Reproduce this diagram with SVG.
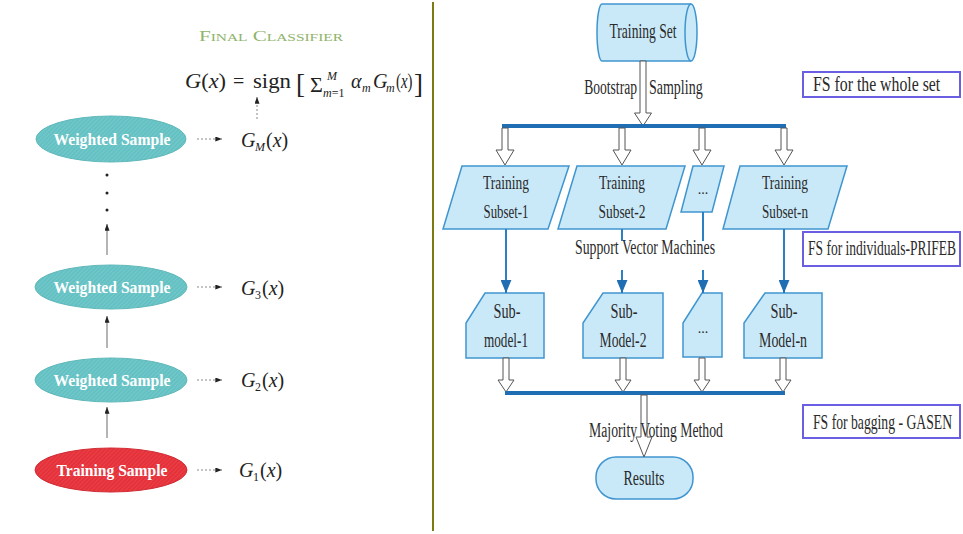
<svg xmlns="http://www.w3.org/2000/svg" width="963" height="534" viewBox="0 0 963 534">
  <style>
    .serif { font-family: "Liberation Serif", "Times New Roman", serif; }
    .it { font-style: italic; }
    .math { font-family: "Liberation Serif", "Times New Roman", serif; font-size: 20px; fill: #222; }
    .sub { font-size: 12px; }
    .ell-txt { font-family: "Liberation Serif", serif; font-weight: bold; font-size: 16px; fill: #ffffff; }
    .teal { fill: url(#tealHatch); stroke: #5fb8ba; stroke-width: 1; }
    .red { fill: url(#redHatch); stroke: #d02a33; stroke-width: 1; }
    .dash { stroke: #8a8a8a; stroke-width: 1; stroke-dasharray: 2 2; fill: none; }
    .up { stroke: #6a6a6a; stroke-width: 1; fill: none; }
    .shape { fill: #c9e9f9; stroke: #3f95cf; stroke-width: 1.5; }
    .lbl { font-family: "Liberation Serif", "Times New Roman", serif; fill: #2a2a2a; }
    .bar { stroke: #1f6db3; stroke-width: 4; fill: none; }
    .wire { stroke: #2a80c2; stroke-width: 2; fill: none; }
    .hollow { fill: #ffffff; stroke: #555555; stroke-width: 1; }
    .note { fill: #ffffff; stroke: #6a5fe2; stroke-width: 2; }
  </style>
  <defs>
    <pattern id="tealHatch" width="3" height="3" patternUnits="userSpaceOnUse" patternTransform="rotate(45)">
      <rect width="3" height="3" fill="#64c1c3"/>
      <line x1="0" y1="0" x2="0" y2="3" stroke="#86d0d1" stroke-width="1"/>
    </pattern>
    <pattern id="redHatch" width="3" height="3" patternUnits="userSpaceOnUse" patternTransform="rotate(45)">
      <rect width="3" height="3" fill="#e5313a"/>
      <line x1="0" y1="0" x2="0" y2="3" stroke="#ee5058" stroke-width="1"/>
    </pattern>
    <marker id="smallHead" viewBox="0 0 8 6" refX="8" refY="3" markerWidth="7" markerHeight="5" markerUnits="userSpaceOnUse" orient="auto">
      <path d="M0,0 L8,3 L0,6 Z" fill="#222"/>
    </marker>
    <marker id="blueHead" viewBox="0 0 12 10" refX="12" refY="5" markerWidth="13" markerHeight="11" markerUnits="userSpaceOnUse" orient="auto">
      <path d="M0,0 L12,5 L0,10 Z" fill="#1f6db3"/>
    </marker>
    <!-- hollow block arrows reused under the bars -->
    <path id="splitArrow" class="hollow" d="M-3,128 V150 H-9 L0,165 L9,150 H3 V128 Z"/>
    <path id="mergeArrow" class="hollow" d="M-3,358 V380 H-8 L0,392 L8,380 H3 V358 Z"/>
  </defs>

  <rect width="963" height="534" fill="#ffffff"/>

  <!-- ============ Boosting panel ============ -->
  <g id="final-classifier">
    <text class="serif" x="271" y="41" text-anchor="middle" font-size="15" fill="#8fb46c" style="font-variant: small-caps;" textLength="144" lengthAdjust="spacingAndGlyphs">Final Classifier</text>
    <g class="math">
      <text transform="translate(185,88) scale(1.12,1)"><tspan class="it">G</tspan>(<tspan class="it">x</tspan>)</text>
      <text x="233" y="88">=</text>
      <text transform="translate(253,88) scale(1.14,1)">sign</text>
      <text x="296" y="93" font-size="27">[</text>
      <text x="310" y="92" font-size="22">Σ</text>
      <text x="327" y="80" class="sub it">M</text>
      <text x="323" y="97" class="sub"><tspan class="it">m</tspan>=1</text>
      <text x="351" y="88" class="it">α</text>
      <text x="362" y="92" class="sub it">m</text>
      <text x="373" y="88" class="it">G</text>
      <text x="386" y="92" class="sub it">m</text>
      <text transform="translate(396,88) scale(0.74,1)">(<tspan class="it">x</tspan>)</text>
      <text x="414" y="93" font-size="27">]</text>
    </g>
  </g>

  <g id="weighted-sample-M">
    <ellipse class="teal" cx="111" cy="139" rx="75" ry="23"/>
    <text class="ell-txt" x="112" y="145" text-anchor="middle" textLength="117" lengthAdjust="spacingAndGlyphs">Weighted Sample</text>
  </g>
  <g id="weighted-sample-3">
    <ellipse class="teal" cx="111" cy="287" rx="76" ry="22"/>
    <text class="ell-txt" x="112" y="293" text-anchor="middle" textLength="117" lengthAdjust="spacingAndGlyphs">Weighted Sample</text>
  </g>
  <g id="weighted-sample-2">
    <ellipse class="teal" cx="111" cy="380" rx="76" ry="22"/>
    <text class="ell-txt" x="112" y="386" text-anchor="middle" textLength="117" lengthAdjust="spacingAndGlyphs">Weighted Sample</text>
  </g>
  <g id="training-sample">
    <ellipse class="red" cx="111" cy="470" rx="76" ry="22"/>
    <text class="ell-txt" x="112" y="476" text-anchor="middle" textLength="111" lengthAdjust="spacingAndGlyphs">Training Sample</text>
  </g>

  <g id="classifier-outputs" class="math">
    <text x="241" y="147" class="it">G</text>
    <text x="255" y="151" class="sub it">M</text>
    <text x="266" y="147">(<tspan class="it">x</tspan>)</text>
    <text x="241" y="295" class="it">G</text>
    <text x="255" y="299" class="sub">3</text>
    <text x="262" y="295">(<tspan class="it">x</tspan>)</text>
    <text x="241" y="387" class="it">G</text>
    <text x="255" y="391" class="sub">2</text>
    <text x="262" y="387">(<tspan class="it">x</tspan>)</text>
    <text x="239" y="477" class="it">G</text>
    <text x="253" y="481" class="sub">1</text>
    <text x="260" y="477">(<tspan class="it">x</tspan>)</text>
  </g>

  <g id="boosting-connectors">
    <line class="dash" x1="257" y1="119" x2="257" y2="97" marker-end="url(#smallHead)"/>
    <line class="dash" x1="197" y1="139" x2="222" y2="139" marker-end="url(#smallHead)"/>
    <line class="dash" x1="197" y1="287" x2="222" y2="287" marker-end="url(#smallHead)"/>
    <line class="dash" x1="197" y1="380" x2="222" y2="380" marker-end="url(#smallHead)"/>
    <line class="dash" x1="197" y1="470" x2="222" y2="470" marker-end="url(#smallHead)"/>
    <line class="up" x1="107" y1="255" x2="107" y2="224" marker-end="url(#smallHead)"/>
    <line class="up" x1="107" y1="348" x2="107" y2="316" marker-end="url(#smallHead)"/>
    <line class="up" x1="107" y1="438" x2="107" y2="407" marker-end="url(#smallHead)"/>
    <circle cx="107" cy="175" r="1.5" fill="#222"/>
    <circle cx="107" cy="193" r="1.5" fill="#222"/>
    <circle cx="107" cy="210" r="1.5" fill="#222"/>
  </g>

  <!-- panel divider -->
  <line x1="433" y1="2" x2="433" y2="531" stroke="#7d7a12" stroke-width="2"/>

  <!-- ============ Bagging panel ============ -->
  <g id="training-set">
    <path class="shape" d="M602,4 H691 A6,28.5 0 0 1 691,61 H602 A5,28.5 0 0 1 602,4 Z"/>
    <path class="shape" fill="none" d="M691,4 A6,28.5 0 0 0 691,61"/>
    <text class="lbl" x="643" y="38" text-anchor="middle" font-size="21" textLength="67" lengthAdjust="spacingAndGlyphs">Training Set</text>
  </g>

  <g id="subset-1">
    <path class="shape" d="M462,166 H569 L548,229 H443 Z"/>
    <text class="lbl" x="506" y="189" text-anchor="middle" font-size="19" textLength="46" lengthAdjust="spacingAndGlyphs">Training</text>
    <text class="lbl" x="506" y="218" text-anchor="middle" font-size="19" textLength="45" lengthAdjust="spacingAndGlyphs">Subset-1</text>
  </g>
  <g id="subset-2">
    <path class="shape" d="M577,166 H685 L666,229 H558 Z"/>
    <text class="lbl" x="622" y="189" text-anchor="middle" font-size="19" textLength="46" lengthAdjust="spacingAndGlyphs">Training</text>
    <text class="lbl" x="622" y="218" text-anchor="middle" font-size="19" textLength="47" lengthAdjust="spacingAndGlyphs">Subset-2</text>
  </g>
  <g id="subset-more">
    <path class="shape" d="M693,166 H724 L712,212 H681 Z"/>
    <text class="lbl" x="703" y="194" text-anchor="middle" font-size="14">...</text>
  </g>
  <g id="subset-n">
    <path class="shape" d="M740,166 H847 L828,229 H723 Z"/>
    <text class="lbl" x="785" y="189" text-anchor="middle" font-size="19" textLength="46" lengthAdjust="spacingAndGlyphs">Training</text>
    <text class="lbl" x="785" y="218" text-anchor="middle" font-size="19" textLength="46" lengthAdjust="spacingAndGlyphs">Subset-n</text>
  </g>

  <g id="submodel-1">
    <path class="shape" d="M485,293 H544 V358 H466 V323 Z"/>
    <text class="lbl" x="507" y="318" text-anchor="middle" font-size="20" textLength="27" lengthAdjust="spacingAndGlyphs">Sub-</text>
    <text class="lbl" x="506" y="347" text-anchor="middle" font-size="20" textLength="44" lengthAdjust="spacingAndGlyphs">model-1</text>
  </g>
  <g id="submodel-2">
    <path class="shape" d="M603,293 H663 V358 H583 V323 Z"/>
    <text class="lbl" x="624" y="318" text-anchor="middle" font-size="20" textLength="27" lengthAdjust="spacingAndGlyphs">Sub-</text>
    <text class="lbl" x="623" y="347" text-anchor="middle" font-size="20" textLength="47" lengthAdjust="spacingAndGlyphs">Model-2</text>
  </g>
  <g id="submodel-more">
    <path class="shape" d="M702,293 H722 V357 H683 V323 Z"/>
    <text class="lbl" x="703" y="333" text-anchor="middle" font-size="14">...</text>
  </g>
  <g id="submodel-n">
    <path class="shape" d="M765,293 H822 V358 H744 V323 Z"/>
    <text class="lbl" x="784" y="318" text-anchor="middle" font-size="20" textLength="27" lengthAdjust="spacingAndGlyphs">Sub-</text>
    <text class="lbl" x="783" y="347" text-anchor="middle" font-size="20" textLength="48" lengthAdjust="spacingAndGlyphs">Model-n</text>
  </g>

  <g id="results">
    <rect class="shape" x="596" y="457" width="97" height="42" rx="20" ry="20"/>
    <text class="lbl" x="644" y="485" text-anchor="middle" font-size="21" textLength="41" lengthAdjust="spacingAndGlyphs">Results</text>
  </g>

  <!-- side notes: narrow serif set by horizontal scaling -->
  <g id="note-whole-set">
    <rect class="note" x="803" y="72" width="157" height="25"/>
    <text class="lbl" transform="translate(813,91) scale(0.79,1)" font-size="20">FS for the whole set</text>
  </g>
  <g id="note-individuals">
    <rect class="note" x="803" y="232" width="157" height="34"/>
    <text class="lbl" transform="translate(808,255) scale(0.676,1)" font-size="20">FS for individuals-PRIFEB</text>
  </g>
  <g id="note-bagging">
    <rect class="note" x="803" y="405" width="157" height="33"/>
    <text class="lbl" transform="translate(813,429) scale(0.684,1)" font-size="20">FS for bagging - GASEN</text>
  </g>

  <g id="bagging-connectors">
    <!-- bootstrap sampling into the split bar -->
    <text class="lbl" transform="translate(637,94) scale(0.68,1)" text-anchor="end" font-size="20">Bootstrap</text>
    <text class="lbl" transform="translate(649,94) scale(0.70,1)" font-size="20">Sampling</text>
    <path class="hollow" d="M640,61 V113 H634.5 L643,126 L651.5,113 H646 V61 Z"/>
    <line class="bar" x1="502" y1="126" x2="786" y2="126"/>
    <use href="#splitArrow" x="505"/>
    <use href="#splitArrow" x="622"/>
    <use href="#splitArrow" x="702"/>
    <use href="#splitArrow" x="784"/>

    <!-- subsets to sub-models -->
    <text class="lbl" x="645" y="254" text-anchor="middle" font-size="20" textLength="140" lengthAdjust="spacingAndGlyphs">Support Vector Machines</text>
    <line class="wire" x1="506" y1="229" x2="506" y2="293" marker-end="url(#blueHead)"/>
    <line class="wire" x1="622" y1="229" x2="622" y2="241"/>
    <line class="wire" x1="622" y1="270" x2="622" y2="293" marker-end="url(#blueHead)"/>
    <line class="wire" x1="703" y1="212" x2="703" y2="241"/>
    <line class="wire" x1="703" y1="270" x2="703" y2="293" marker-end="url(#blueHead)"/>
    <line class="wire" x1="784" y1="229" x2="784" y2="293" marker-end="url(#blueHead)"/>

    <!-- sub-models into the voting bar -->
    <use href="#mergeArrow" x="506"/>
    <use href="#mergeArrow" x="623"/>
    <use href="#mergeArrow" x="702"/>
    <use href="#mergeArrow" x="783"/>
    <line class="bar" x1="505" y1="393" x2="785" y2="393"/>

    <!-- majority vote to results, label drawn over the shaft -->
    <path class="hollow" d="M641,395 V437 H636 L644,457 L652,437 H647 V395 Z"/>
    <text class="lbl" x="656" y="437" text-anchor="middle" font-size="20" textLength="134" lengthAdjust="spacingAndGlyphs">Majority Voting Method</text>
  </g>
</svg>
